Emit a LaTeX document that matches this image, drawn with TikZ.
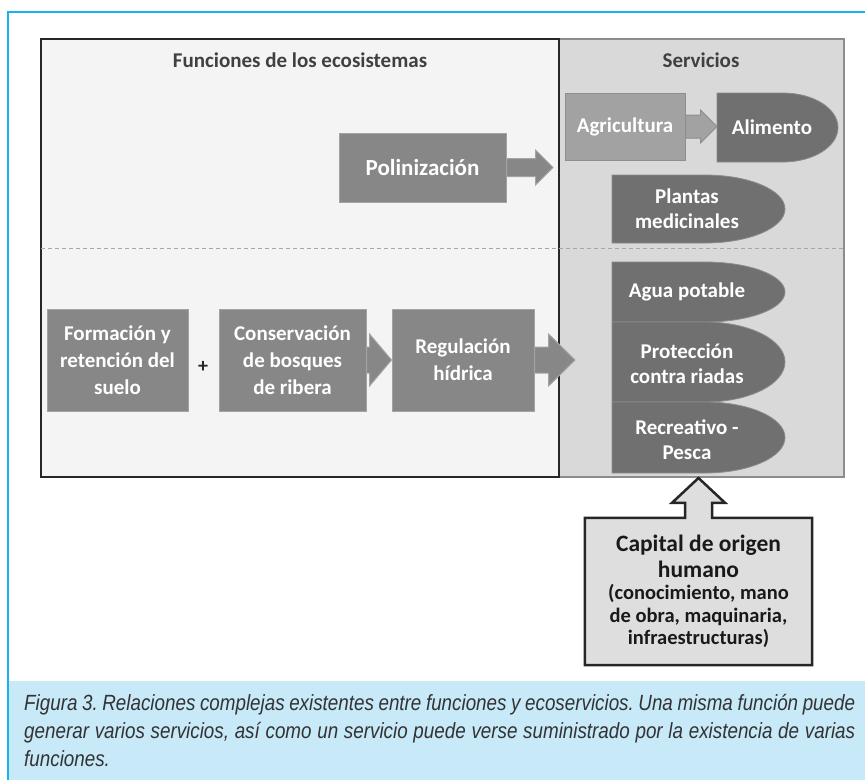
\documentclass[tikz,border=0pt]{standalone}
\usepackage{fontspec}
\setmainfont{Carlito}
\newfontfamily\capfont[FakeStretch=0.855]{Liberation Sans}
\usetikzlibrary{calc}

\definecolor{frameblue}{HTML}{1AB2EA}
\definecolor{captionbg}{HTML}{C7E9F8}
\definecolor{captiontext}{HTML}{333333}
\definecolor{funcbg}{HTML}{F4F4F4}
\definecolor{servbg}{HTML}{D9D9D9}
\definecolor{servline}{HTML}{8C8C8C}
\definecolor{boxfill}{HTML}{878787}
\definecolor{boxline}{HTML}{A3A3A3}
\definecolor{agrifill}{HTML}{A2A2A2}
\definecolor{agriline}{HTML}{8E8E8E}
\definecolor{darkfill}{HTML}{707070}
\definecolor{headgray}{HTML}{404040}
\definecolor{capfill}{HTML}{DEDEDE}

\begin{document}
\begin{tikzpicture}[x=1pt, y=-1pt,
  head/.style={text=headgray, font=\bfseries\fontsize{21}{24}\selectfont},
  funcbox/.style={fill=boxfill, draw=boxline, line width=1pt, text=white, align=center,
    font=\bfseries\fontsize{21}{27}\selectfont},
  blockarrow/.style={fill=boxfill, draw=boxline, line width=1pt},
  servshape/.style={fill=darkfill, draw=servline, line width=0.8pt},
  servtext/.style={text=white, align=center, font=\bfseries\fontsize{21}{25}\selectfont},
  capline/.style={draw=black!85, line width=2.5pt}]
\useasboundingbox (0,0) rectangle (865,780);

% Caption band and frame
\fill[captionbg] (8,681) rectangle (865,780);
\draw[frameblue, line width=1.5pt] (865,12) -- (8,12) -- (8,780);

% Panels
\draw[fill=servbg, draw=servline, line width=2pt] (559,39) rectangle (844,477);
\draw[fill=funcbg, draw=black!85, line width=2.5pt] (41,39) rectangle (559,477);
\node[head] (funciones) at (300,60) {Funciones de los ecosistemas};
\node[head] (servicios) at (701,60) {Servicios};

% Dashed divider
\draw[black!35, line width=1pt, dash pattern=on 4pt off 3pt] (41,248) -- (844,248);

% Services
\draw[servshape] (717,93) -- (783,93) arc[start angle=-90, end angle=90, x radius=55, y radius=34.5] -- (717,162) -- cycle;
\node[servtext] (alimento) at (772,127.5) {Alimento};
\coordinate (alimIn) at (717,126.5);
\draw[servshape] (612,175) -- (705,175) arc[start angle=-90, end angle=90, x radius=80, y radius=34] -- (612,243) -- cycle;
\node[servtext] (plantas) at (687,209) {Plantas\\medicinales};
\draw[servshape] (612,262) -- (705,262) arc[start angle=-90, end angle=90, x radius=80, y radius=30] -- (612,322) -- cycle;
\node[servtext] (agua) at (687,292) {Agua potable};
\draw[servshape] (612,322) -- (705,322) arc[start angle=-90, end angle=90, x radius=80, y radius=40] -- (612,402) -- cycle;
\node[servtext] (proteccion) at (687,364) {Protección\\contra riadas};
\draw[servshape] (612,402) -- (705,402) arc[start angle=-90, end angle=90, x radius=80, y radius=35.5] -- (612,473) -- cycle;
\node[servtext] (recreativo) at (687,440) {Recreativo -\\Pesca};

% Agricultura
\node[funcbox, fill=agrifill, draw=agriline, minimum width=120, minimum height=67] (agri) at (625,126.5) {Agricultura};
\draw[blockarrow, fill=agrifill, draw=agriline] ($(agri.east)+(0,-11.5)$) -- ($(agri.east)+(15,-11.5)$)
  -- ($(agri.east)+(15,-16.5)$) -- (alimIn) -- ($(agri.east)+(15,16.5)$) -- ($(agri.east)+(15,11.5)$)
  -- ($(agri.east)+(0,11.5)$) -- cycle;

% Polinizacion
\node[funcbox, font=\bfseries\fontsize{23}{27}\selectfont, minimum width=167, minimum height=69] (poli) at (422.5,167.5) {Polinización};
\coordinate (poliTip) at (553,167.5);
\draw[blockarrow] ($(poli.east)+(0,-9)$) -- ($(poli.east)+(29,-9)$) -- ($(poli.east)+(29,-17.5)$)
  -- (poliTip) -- ($(poli.east)+(29,17.5)$) -- ($(poli.east)+(29,9)$) -- ($(poli.east)+(0,9)$) -- cycle;

% Regulacion hidrica
\node[funcbox, minimum width=141, minimum height=102] (suelo) at (117.5,360) {Formación y\\retención del\\suelo};
\node[text=black!85, font=\bfseries\fontsize{20}{24}\selectfont] (plus) at (203,367) {+};
\node[funcbox, minimum width=147, minimum height=102] (bosques) at (292.5,360) {Conservación\\de bosques\\de ribera};
\node[funcbox, minimum width=142, minimum height=102] (regulacion) at (463,360) {Regulación\\hídrica};
\draw[blockarrow] ($(bosques.east)+(0,-13)$) -- ($(bosques.east)+(3,-13)$) -- ($(bosques.east)+(3,-26)$)
  -- (regulacion.west) -- ($(bosques.east)+(3,26)$) -- ($(bosques.east)+(3,13)$) -- ($(bosques.east)+(0,13)$) -- cycle;
\coordinate (aguaTip) at (575,360);
\draw[blockarrow] ($(regulacion.east)+(0,-13)$) -- ($(regulacion.east)+(14,-13)$) -- ($(regulacion.east)+(14,-26)$)
  -- (aguaTip) -- ($(regulacion.east)+(14,26)$) -- ($(regulacion.east)+(14,13)$) -- ($(regulacion.east)+(0,13)$) -- cycle;

% Capital de origen humano
\node[fill=capfill, minimum width=227, minimum height=147, inner sep=0, align=center, text=black!90,
  font=\bfseries\fontsize{20.5}{22.5}\selectfont] (capital) at (698.5,591.5)
  {\fontsize{23.5}{25}\selectfont Capital de origen\\[3pt]\fontsize{23.5}{25}\selectfont humano\\(conocimiento, mano\\de obra, maquinaria,\\infraestructuras)};
\coordinate (capTip) at (698.5,478);
\fill[capfill] ($(capital.north)+(-13.5,1)$) -- ($(capital.north)+(-13.5,-15)$) -- ($(capital.north)+(-26.5,-15)$)
  -- (capTip) -- ($(capital.north)+(26.5,-15)$) -- ($(capital.north)+(13.5,-15)$) -- ($(capital.north)+(13.5,1)$) -- cycle;
\draw[capline] (capital.north west) -- ($(capital.north)+(-13.5,0)$) -- ($(capital.north)+(-13.5,-15)$)
  -- ($(capital.north)+(-26.5,-15)$) -- (capTip) -- ($(capital.north)+(26.5,-15)$) -- ($(capital.north)+(13.5,-15)$)
  -- ($(capital.north)+(13.5,0)$) -- (capital.north east) -- (capital.south east) -- (capital.south west) -- cycle;

% Caption
\node[anchor=north west, inner sep=0, text width=831, align=justify, text=captiontext,
  font=\capfont\itshape\fontsize{22}{28}\selectfont\frenchspacing] (caption) at (24,694)
  {Figura 3. Relaciones complejas existentes entre funciones y ecoservicios. Una misma función puede\linebreak
   generar varios servicios, así como un servicio puede verse suministrado por la existencia de varias\linebreak
   funciones.};
\end{tikzpicture}
\end{document}
